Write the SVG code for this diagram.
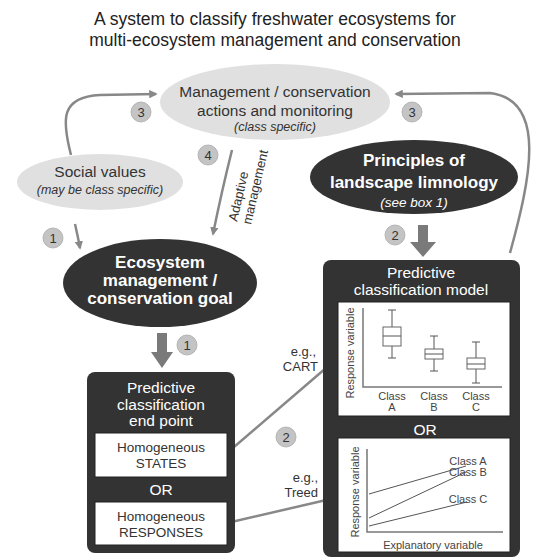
<svg xmlns="http://www.w3.org/2000/svg" width="535" height="559" viewBox="0 0 535 559">
<defs>
<style>
text{font-family:"Liberation Sans",Arial,sans-serif;}
.title{font-size:17.5px;fill:#222;text-anchor:middle;}
.lt{font-size:15.5px;fill:#333;text-anchor:middle;}
.it{font-size:12.5px;fill:#333;text-anchor:middle;font-style:italic;}
.bw{font-size:17px;fill:#fff;text-anchor:middle;font-weight:bold;}
.wi{font-size:13.5px;fill:#fff;text-anchor:middle;font-style:italic;}
.wt{font-size:15.5px;fill:#fff;text-anchor:middle;}
.bx{font-size:13.5px;fill:#333;text-anchor:middle;}
.sm{font-size:11px;fill:#444;text-anchor:middle;}
.lab{font-size:13px;fill:#333;text-anchor:end;}
.badge circle{fill:#c4c4c4;stroke:#aaa;stroke-width:0.8;}
.badge text{font-size:13px;fill:#333;text-anchor:middle;}
.light{fill:#e0e0e0;}
.dark{fill:#333;}
.conn{fill:none;stroke:#888;stroke-width:2.5;}
.thick{fill:#7a7a7a;}
.ax{stroke:#777;stroke-width:1.5;fill:none;}
.bp{stroke:#666;stroke-width:1;fill:#fff;}
.ln{stroke:#555;stroke-width:1;fill:none;}
</style>
<marker id="ah" viewBox="0 0 10 10" refX="8" refY="5" markerWidth="3.4" markerHeight="3.4" orient="auto" markerUnits="strokeWidth">
<path d="M0,0 L10,5 L0,10 z" fill="#888"/>
</marker>
</defs>

<g id="title">
<text class="title" x="275" y="25">A system to classify freshwater ecosystems for</text>
<text class="title" x="275" y="46">multi-ecosystem management and conservation</text>
</g>

<g id="connectors">
<path class="conn" d="M71,155 C62,120 60,97 100,95 L156,94" marker-end="url(#ah)"/>
<path class="conn" d="M510,253 C530,180 548,100 490,93 L396,94" marker-end="url(#ah)"/>
<path class="conn" d="M75,224 Q78,237 80,248" marker-end="url(#ah)"/>
<path class="conn" d="M232,150 Q222,190 213,234" marker-end="url(#ah)"/>
<path class="conn" d="M227,453 L333,362" marker-end="url(#ah)"/>
<path class="conn" d="M227,523 L335,498" marker-end="url(#ah)"/>
<polygon class="thick" points="157,333 167,333 167,352 173,352 162,368 151,352 157,352"/>
<polygon class="thick" points="418,225 428,225 428,242 436,242 423,257 410,242 418,242"/>
<text class="lab" x="316" y="356">e.g.,</text>
<text class="lab" x="318" y="371">CART</text>
<text class="lab" x="318" y="482">e.g.,</text>
<text class="lab" x="318" y="497">Treed</text>
<text font-size="13" fill="#333" transform="translate(237,222) rotate(-77)">Adaptive</text>
<text font-size="13" fill="#333" transform="translate(251,225) rotate(-77)">management</text>
</g>

<g id="badges">
<g class="badge"><circle cx="141" cy="112" r="10"/><text x="141" y="117">3</text></g>
<g class="badge"><circle cx="412" cy="112" r="10"/><text x="412" y="117">3</text></g>
<g class="badge"><circle cx="208" cy="155" r="10"/><text x="208" y="160">4</text></g>
<g class="badge"><circle cx="53" cy="238" r="10"/><text x="53" y="243">1</text></g>
<g class="badge"><circle cx="187" cy="345" r="10"/><text x="187" y="350">1</text></g>
<g class="badge"><circle cx="395" cy="235" r="10"/><text x="395" y="240">2</text></g>
<g class="badge"><circle cx="286" cy="437" r="10"/><text x="286" y="442">2</text></g>
</g>

<g id="actions">
<ellipse class="light" cx="275" cy="102" rx="115" ry="38"/>
<text class="lt" x="275" y="97">Management / conservation</text>
<text class="lt" x="275" y="116">actions and monitoring</text>
<text class="it" x="275" y="131" font-size="11.5">(class specific)</text>
</g>

<g id="social">
<ellipse class="light" cx="100" cy="182" rx="83" ry="28"/>
<text class="lt" x="100" y="177">Social values</text>
<text class="it" x="100" y="194">(may be class specific)</text>
</g>

<g id="goal">
<ellipse class="dark" cx="160" cy="283" rx="97" ry="44"/>
<text class="bw" x="160" y="268">Ecosystem</text>
<text class="bw" x="160" y="286">management /</text>
<text class="bw" x="160" y="304">conservation goal</text>
</g>

<g id="principles">
<ellipse class="dark" cx="414" cy="177" rx="104" ry="37"/>
<text class="bw" x="414" y="166">Principles of</text>
<text class="bw" x="414" y="188">landscape limnology</text>
<text class="wi" x="414" y="207">(see box 1)</text>
</g>

<g id="endpoint">
<rect class="dark" x="87" y="372" width="148" height="181" rx="8"/>
<text class="wt" x="161" y="393">Predictive</text>
<text class="wt" x="161" y="410">classification</text>
<text class="wt" x="161" y="426">end point</text>
<rect x="95" y="433" width="132" height="44" fill="#fff" stroke="#222" stroke-width="1"/>
<text class="bx" x="161" y="452">Homogeneous</text>
<text class="bx" x="161" y="468">STATES</text>
<text class="wt" x="161" y="495" font-size="14">OR</text>
<rect x="95" y="502" width="132" height="43" fill="#fff" stroke="#222" stroke-width="1"/>
<text class="bx" x="161" y="521">Homogeneous</text>
<text class="bx" x="161" y="537">RESPONSES</text>
</g>

<g id="model">
<rect class="dark" x="323" y="260" width="197" height="297" rx="8"/>
<text class="wt" x="421" y="278">Predictive</text>
<text class="wt" x="421" y="295">classification model</text>
<rect x="338" y="302" width="172" height="114" fill="#fff" stroke="#222" stroke-width="1"/>
<path class="ax" d="M363,308 L363,387 L502,387"/>
<text class="sm" transform="translate(354,353) rotate(-90)">Response variable</text>
<path class="ln" d="M392,310 L392,327 M392,346 L392,358 M388,310 L396,310 M388,358 L396,358"/>
<rect class="bp" x="383" y="327" width="18" height="19"/>
<path class="ln" d="M383,336 L401,336"/>
<path class="ln" d="M434,336 L434,349 M434,359 L434,371 M430,336 L438,336 M430,371 L438,371"/>
<rect class="bp" x="425" y="349" width="18" height="10"/>
<path class="ln" d="M425,354 L443,354"/>
<path class="ln" d="M476,342 L476,358 M476,369 L476,383 M472,342 L480,342 M472,383 L480,383"/>
<rect class="bp" x="467" y="358" width="18" height="11"/>
<path class="ln" d="M467,364 L485,364"/>
<text class="sm" x="392" y="400">Class</text>
<text class="sm" x="392" y="411">A</text>
<text class="sm" x="434" y="400">Class</text>
<text class="sm" x="434" y="411">B</text>
<text class="sm" x="476" y="400">Class</text>
<text class="sm" x="476" y="411">C</text>
<text class="wt" x="425" y="435" font-size="14">OR</text>
<rect x="338" y="438" width="172" height="114" fill="#fff" stroke="#222" stroke-width="1"/>
<path class="ax" d="M367,449 L367,532 L503,532"/>
<text class="sm" transform="translate(359,492) rotate(-90)">Response variable</text>
<text class="sm" x="433" y="549">Explanatory variable</text>
<path class="ln" d="M369,494 L466,466 M369,518 L466,472 M369,526 L467,502"/>
<text class="sm" x="468" y="465" text-anchor="start">Class A</text>
<text class="sm" x="468" y="476" text-anchor="start">Class B</text>
<text class="sm" x="468" y="503" text-anchor="start">Class C</text>
</g>
</svg>
